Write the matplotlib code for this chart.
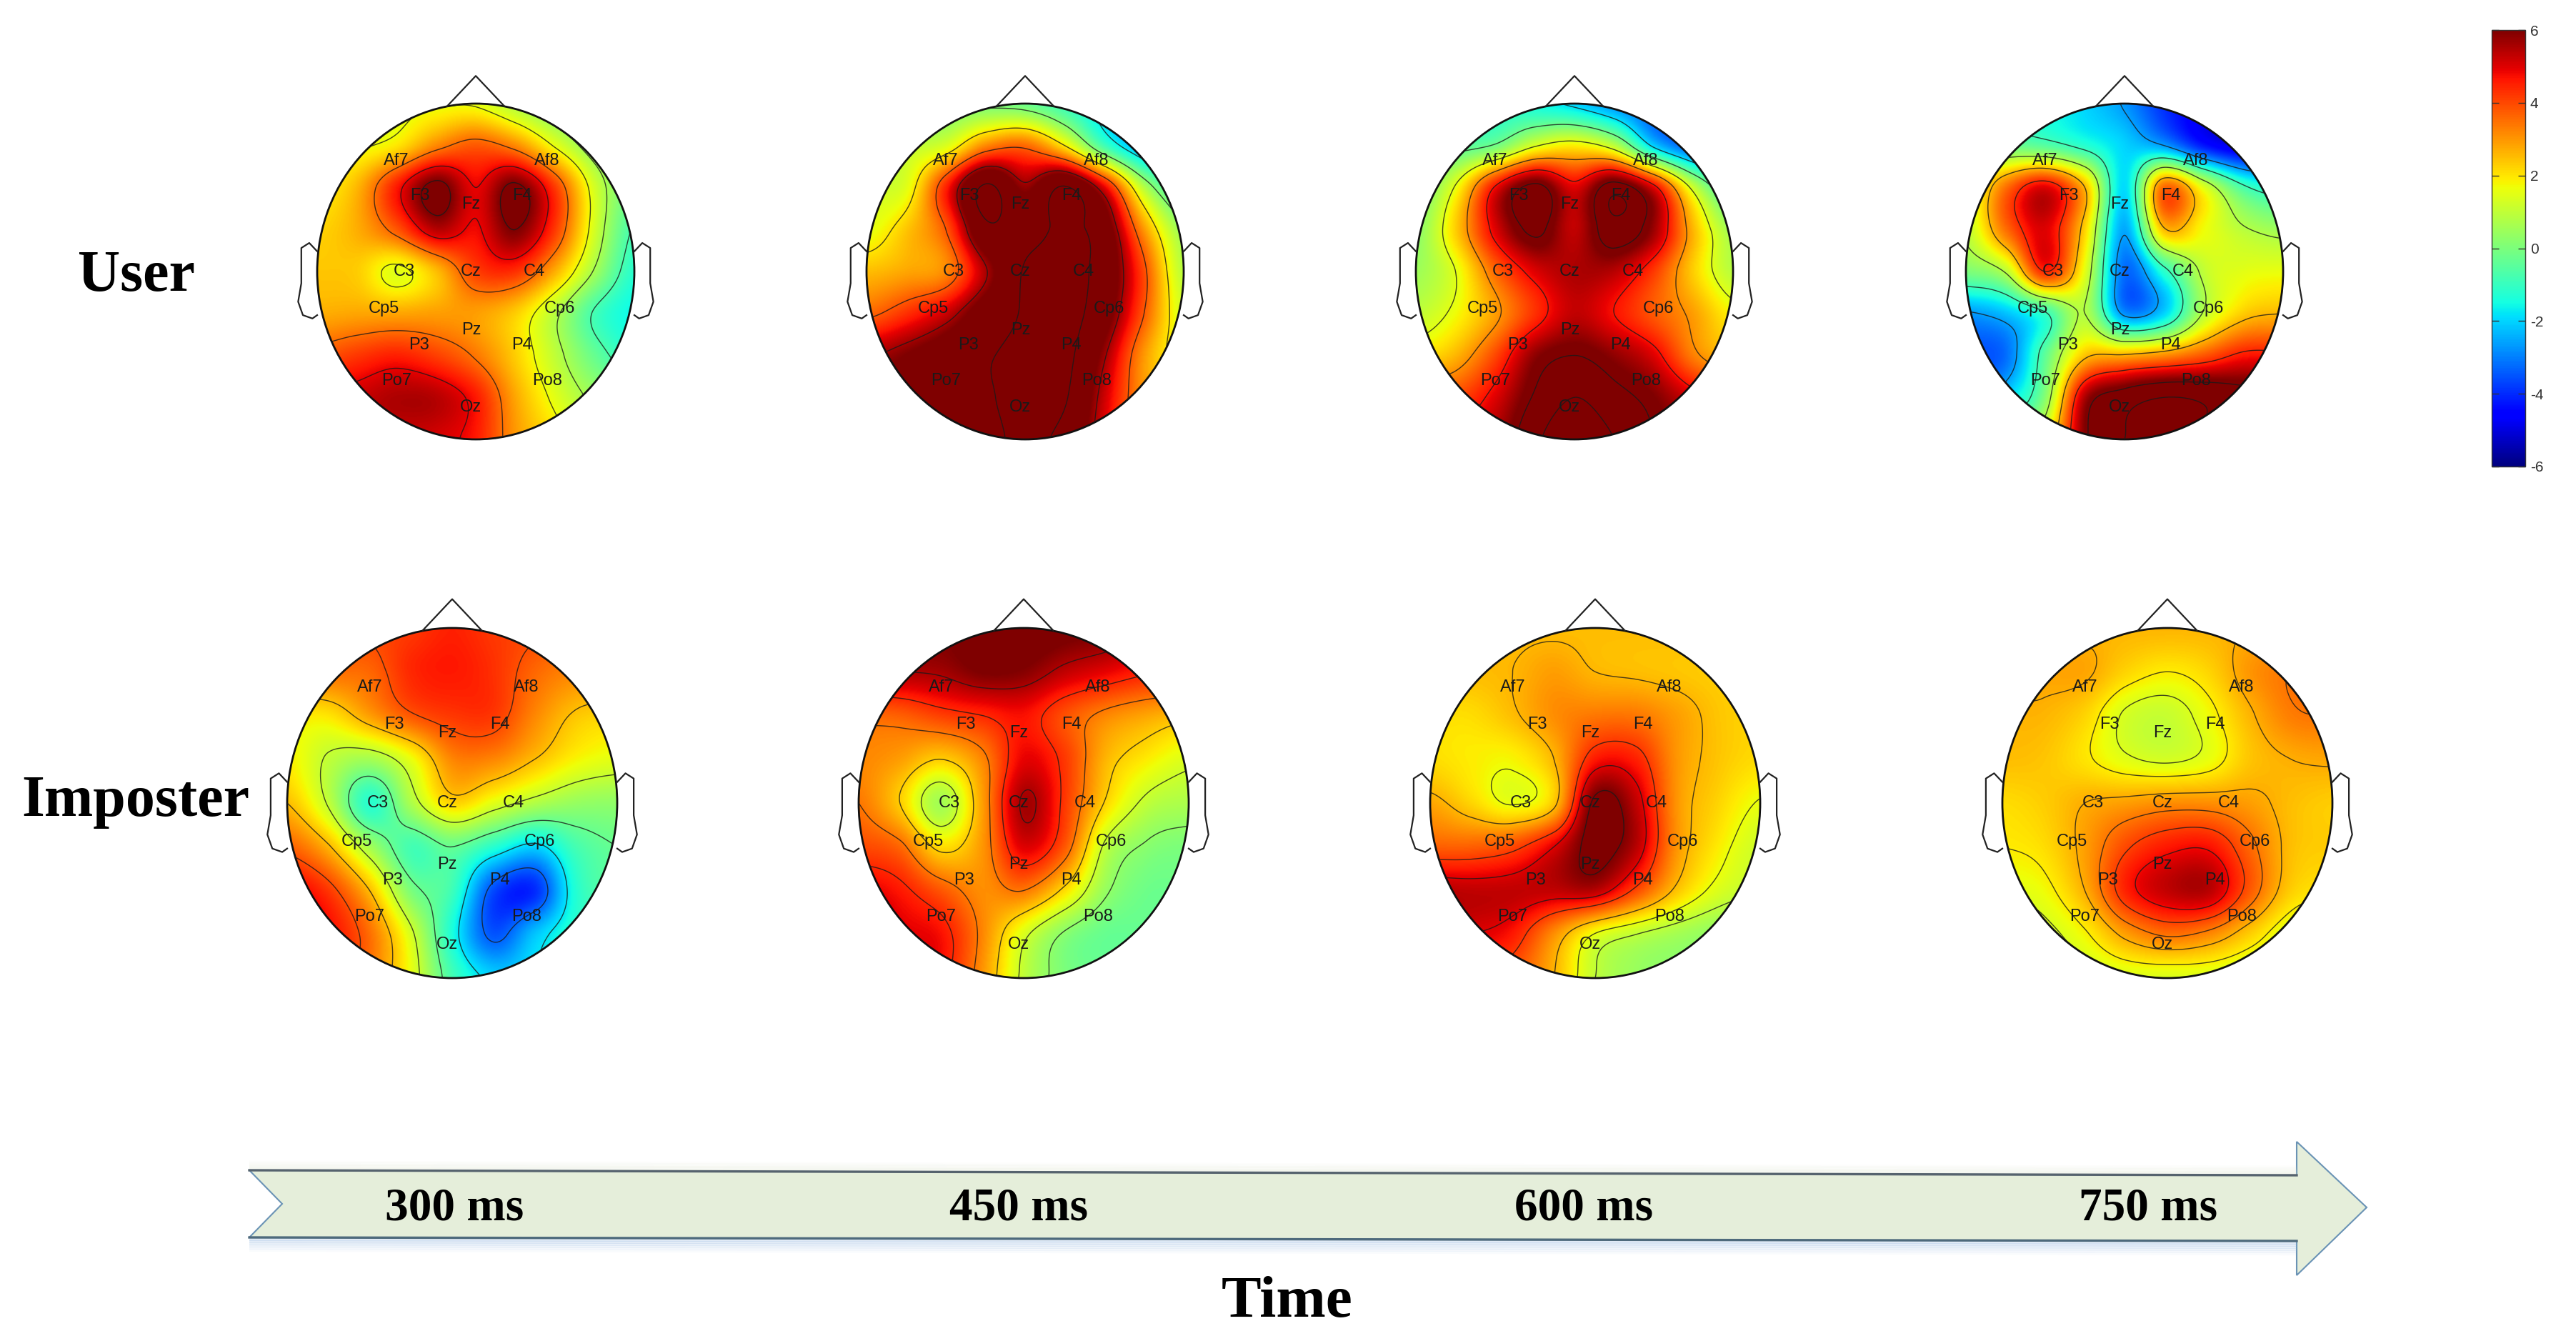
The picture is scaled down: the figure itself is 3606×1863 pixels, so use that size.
import numpy as np
import matplotlib
matplotlib.use('Agg')
import matplotlib.pyplot as plt
from matplotlib.patches import Ellipse, Polygon

W, H = 3606, 1863

# electrode names and their place on the head (-1..1, y up)
electrodes = ['Af7', 'Af8', 'F3', 'Fz', 'F4', 'C3', 'Cz', 'C4', 'Cp5', 'Cp6',
              'Pz', 'P3', 'P4', 'Po7', 'Po8', 'Oz']
elec_x = [-.5, .45, -.35, -.03, .29, -.45, -.03, .37, -.58, .53, -.03, -.36, .29, -.5, .45, -.03]
elec_y = [.66, .66, .45, .40, .45, 0, 0, 0, -.22, -.22, -.35, -.44, -.44, -.65, -.65, -.81]

# voltage, rows y=1..-1, columns x=-1..1 (step .25)
user_300 = [
    [1.5, 1.5, 1.5, 1.6, 1.6, .8, 0, -.5, -.5],
    [1.5, 1.6, 2.0, 3.2, 3.8, 3.2, 1.6, .2, -.5],
    [1.8, 2.6, 4.6, 6.3, 4.9, 6.2, 4.2, 1.3, -.3],
    [2.2, 2.7, 3.8, 5.4, 4.8, 6, 4.2, 1.3, -.8],
    [2.4, 2.3, 1.5, 2.5, 4.1, 4.3, 2.7, .6, -1.2],
    [2.7, 2.8, 2.8, 2.9, 2.9, 2.3, .9, -.8, -1.6],
    [3.8, 4.2, 4.5, 4.1, 3.4, 2.3, 1, -.3, -1.2],
    [5, 5.2, 5.5, 5.4, 4.6, 2.8, 1.5, .5, 0],
    [5.2, 5.3, 5.2, 5.1, 4.6, 3, 2, 1, .5],
]
user_450 = [
    [0, 0, 0, 0, -.2, -1, -2, -2, -2],
    [1, 1, 1.4, 3.2, 3.6, 2, -.8, -2.5, -3],
    [1.3, 1.5, 4.5, 7.5, 5.8, 7.4, 5, .9, -1.2],
    [1.5, 2.4, 3.8, 7, 6.8, 7.5, 6.6, 3, .4],
    [2.5, 2.8, 3.2, 5.5, 7.4, 7.6, 6.8, 4, .9],
    [3.6, 4.3, 5.2, 6.6, 7.4, 7.7, 6.5, 3.8, 1.3],
    [5.5, 6.0, 6.6, 7.2, 7.5, 7.6, 5.7, 3, 1.5],
    [6, 6.2, 6.7, 7.2, 7.5, 7.4, 5.2, 3, 2],
    [6, 6.2, 6.7, 7.1, 7.4, 7, 5, 3, 2],
]
user_600 = [
    [-1, -1, -1.2, -1.5, -2, -2.8, -3.5, -3.5, -3.5],
    [-.5, -.5, -.1, 1.4, 1.9, 1, -2, -3.5, -4],
    [-.2, 1.6, 4.8, 6.6, 5, 6.8, 5, 1.2, -1.2],
    [.2, 2.3, 5, 6.5, 5.3, 6.9, 5.7, 2.6, .5],
    [.5, 1.5, 3.6, 5, 5.5, 5.4, 4.2, 2.3, .9],
    [1, 1.7, 2.9, 4.3, 5.3, 4.7, 3.8, 2.9, 1.8],
    [2, 2.6, 4, 5.8, 6.3, 5.8, 5, 3.3, 2.5],
    [4, 4, 5, 6.4, 7.2, 6.6, 6, 5, 4],
    [5, 5, 5.5, 7, 7.8, 7.2, 6.3, 5.5, 5],
]
user_750 = [
    [-1.5, -1.5, -1.5, -2, -2.7, -4, -4.8, -4.8, -4.8],
    [-.2, -.2, -.5, -1.2, -2, -2.6, -4.2, -5, -5],
    [1, 3.5, 5, 2.6, -1.9, 3.6, 1.5, -.7, -1.5],
    [1, 3.5, 5, 2.2, -2.5, 2.5, 1.7, .9, .5],
    [0, .9, 4.4, 1.5, -3.2, -1.2, 1, 1.5, 1.6],
    [-2.7, -2.2, -1, .8, -2.8, -2, .9, 2.3, 2.6],
    [-3.5, -3.2, -.4, 2.4, 2.7, 3.1, 3.8, 4.6, 4.6],
    [-3, -2, .2, 5.5, 6.8, 7.4, 7.2, 6.6, 6.4],
    [-1, 0, 1.5, 6, 7.4, 7.7, 7.2, 6.5, 6.4],
]
imposter_300 = [
    [4, 4, 4, 4.2, 4.5, 4.2, 4, 3.8, 3.8],
    [3.5, 3.5, 3.6, 4.4, 4.6, 4.3, 3.6, 3.2, 3.2],
    [2, 2, 2.9, 3.8, 4.2, 4.2, 3.2, 2.4, 2.2],
    [1.9, 1, .6, 1.6, 3.2, 3.2, 2.5, 1.8, 1.5],
    [2.5, 1, -1.2, .7, 2.2, 1.5, .8, .4, .3],
    [3.7, 2.6, .6, -.8, -.3, -1.2, -2, -.8, -.3],
    [5, 4.2, 2.5, 0, -.9, -3.6, -4, -1.3, -.5],
    [5.5, 4.8, 3.5, 1.3, -1.4, -3.5, -2.2, -1.2, -1],
    [5, 4.5, 3.4, 1.6, -.8, -2, -1.8, -1.2, -1],
]
imposter_450 = [
    [6, 6, 6, 6.2, 6.4, 6.2, 6, 5.5, 5.5],
    [5.5, 5.5, 5.6, 6, 5.9, 5.3, 4.9, 4.5, 4.5],
    [3.6, 3.7, 4.1, 4.4, 4.7, 3.9, 3.2, 2.8, 2.5],
    [3.2, 2.9, 2.3, 3.2, 4.9, 4.2, 2.6, 1.9, 1.4],
    [3.4, 2.3, .6, 2.9, 5.6, 4.2, 2.2, 1, .7],
    [4, 3.6, 2.1, 3, 5, 3.8, 1, .2, 0],
    [5, 4.6, 3.8, 3.1, 3.4, 2.1, .4, -.2, -.2],
    [5.5, 5, 4.7, 3.2, 1.4, .2, -.3, -.3, -.3],
    [5, 5, 4.7, 3, 1, 0, -.3, -.3, -.3],
]
imposter_600 = [
    [2.5, 2.5, 2.5, 2.5, 2.5, 2.5, 2.5, 2.4, 2.4],
    [2.5, 2.5, 2.6, 2.9, 2.6, 2.5, 2.4, 2.3, 2.3],
    [2.1, 2.1, 2.5, 3.1, 3.4, 3.4, 2.9, 2.4, 2.2],
    [2.1, 1.9, 1.8, 2.6, 4.6, 4.5, 3, 2.4, 2.1],
    [2.8, 2.2, 1.6, 2.4, 6.2, 5.3, 3, 2.2, 1.6],
    [3.7, 3.7, 4, 5, 6.3, 5.4, 3, 1.9, 1.2],
    [5.4, 5.3, 5.3, 5.3, 5.4, 4, 2.4, 1.4, 1],
    [5, 5, 4.6, 3.1, 1.6, 1, .6, .3, .2],
    [4, 4, 3.8, 2.6, 1, .4, .2, .1, .1],
]
imposter_750 = [
    [2.6, 2.6, 2.6, 2.6, 2.6, 2.6, 2.7, 2.8, 2.8],
    [2.8, 2.8, 2.8, 2.2, 1.9, 2.2, 3, 3.4, 3.4],
    [2.6, 2.6, 2.2, 1.3, 1.1, 1.7, 2.6, 3.3, 3.4],
    [2.5, 2.4, 2, 1.5, 1.3, 1.6, 2.4, 2.7, 2.8],
    [2.1, 2.3, 2.7, 2.9, 3.1, 3.1, 2.9, 2.5, 2.3],
    [1.9, 2.1, 2.9, 4, 4.6, 4.7, 3.6, 2.5, 2.3],
    [1.5, 1.7, 2.7, 4.5, 5.3, 5.4, 3.8, 2.3, 2],
    [1, 1.2, 1.8, 2.9, 3.5, 3.2, 2.3, 1.4, 1.2],
    [1, 1, 1.2, 1.4, 1.4, 1.4, 1.2, 1, 1],
]

# contour levels per map
levels_u300 = [-.7, .7, 1.7, 3.5, 4.9, 6.0]
levels_u450 = [-1.6, .2, 2, 3.8, 5.6, 7.3]
levels_u600 = [-1.8, -.2, 1.5, 3.1, 4.7, 6.3, 7.2]
levels_u750 = [-2.6, -.9, .8, 2.6, 4.4, 6.2, 7.4]
levels_i300 = [-3.3, -1.8, -.3, 1.1, 2.5, 3.9]
levels_i450 = [.3, 1.2, 2.3, 3.4, 4.4, 5.5]
levels_i600 = [1, 1.65, 2.6, 4.2, 5, 6]
levels_i750 = [1.4, 1.9, 2.7, 3.4, 4.1, 4.8]

cbar_ticks = [-6, -4, -2, 0, 2, 4, 6]
row_labels = ['User', 'Imposter']
time_labels = ['300 ms', '450 ms', '600 ms', '750 ms']

# head places in pixels: centre x, centre y, radius x, radius y
heads = [
    (user_300, levels_u300, 666, 380, 222, 235),
    (user_450, levels_u450, 1435, 380, 222, 235),
    (user_600, levels_u600, 2204, 380, 222, 235),
    (user_750, levels_u750, 2974, 380, 222, 235),
    (imposter_300, levels_i300, 633, 1124, 231, 245),
    (imposter_450, levels_i450, 1433, 1124, 231, 245),
    (imposter_600, levels_i600, 2233, 1124, 231, 245),
    (imposter_750, levels_i750, 3034, 1124, 231, 245),
]

ear_x = [1.0, 1.05, 1.10, 1.10, 1.12, 1.09, 1.03, 1.0]
ear_y = [.12, .17, .14, -.07, -.18, -.26, -.28, -.26]


def upsample(grid, n=361):
    # cubic convolution on the coarse grid, rows then columns
    g = np.array(grid, dtype=float)
    t = np.linspace(0, g.shape[0] - 1, n)
    i = np.clip(np.floor(t).astype(int), 0, g.shape[0] - 2)
    f = t - i
    w = [-.5*f + f**2 - .5*f**3, 1 - 2.5*f**2 + 1.5*f**3,
         .5*f + 2*f**2 - 1.5*f**3, -.5*f**2 + .5*f**3]
    idx = [np.clip(i + k, 0, g.shape[0] - 1) for k in (-1, 0, 1, 2)]
    rows = sum(w[k][:, None] * g[idx[k], :] for k in range(4))
    return sum(w[k][None, :] * rows[:, idx[k]] for k in range(4))


fig = plt.figure(figsize=(W / 100, H / 100), dpi=100)
ax = fig.add_axes([0, 0, 1, 1])

im = None
for grid, levels, cx, cy, rx, ry in heads:
    z = upsample(grid)
    clip = Ellipse((cx, cy), 2 * rx, 2 * ry, transform=ax.transData)
    im = ax.imshow(z, extent=(cx - rx, cx + rx, cy + ry, cy - ry), origin='upper',
                   cmap='jet', vmin=-6, vmax=6, aspect='auto', interpolation='bilinear')
    im.set_clip_path(clip)
    px = np.linspace(cx - rx, cx + rx, z.shape[1])
    py = np.linspace(cy - ry, cy + ry, z.shape[0])
    cs = ax.contour(px, py, z, levels=levels, colors='#1a1a1a', linewidths=1.0,
                    linestyles='solid', alpha=.8)
    cs.set_clip_path(clip)
    ax.add_patch(Ellipse((cx, cy), 2 * rx, 2 * ry, fill=False, ec='#111111', lw=2.0))
    # nose
    ax.plot([cx - .18 * rx, cx, cx + .18 * rx],
            [cy - .985 * ry, cy - 1.165 * ry, cy - .985 * ry], color='#222222', lw=1.6)
    # ears
    for side in (-1, 1):
        ax.plot([cx + side * rx * v for v in ear_x], [cy - ry * v for v in ear_y],
                color='#222222', lw=1.6)
    for name, ex, ey in zip(electrodes, elec_x, elec_y):
        ax.text(cx + ex * rx, cy - ey * ry, name, ha='center', va='center',
                fontsize=17, family='Liberation Sans', color='#1a1a1a')

for label, x, y in zip(row_labels, [191, 190], [387, 1122]):
    ax.text(x, y, label, ha='center', va='center', fontsize=59,
            family='Liberation Serif', weight='bold', color='black')

# time arrow
arrow_x = [349, 3215, 3215, 3313, 3215, 3215, 349, 395]
arrow_y = [1638, 1645, 1598, 1690, 1785, 1737, 1732, 1685]
for k in range(1, 7):
    ax.plot([349, 3215], [1732 + 3 * k, 1737 + 3 * k], color='#8fb4e0',
            lw=3, alpha=.32 - .045 * k, solid_capstyle='butt')
    ax.plot([349, 3215], [1638 - 2 * k, 1645 - 2 * k], color='#dfe6d0',
            lw=2, alpha=.3 - .04 * k, solid_capstyle='butt')
ax.add_patch(Polygon(list(zip(arrow_x, arrow_y)), closed=True, fc='#e5eeda', ec='#6a93b5', lw=1.5))
ax.plot([349, 3215], [1638, 1645], color='#56636e', lw=2.4)
ax.plot([349, 3215], [1732, 1737], color='#4e6a7c', lw=2.4)

for label, x in zip(time_labels, [636, 1426, 2217, 3007]):
    ax.text(x, 1692, label, ha='center', va='center', fontsize=47,
            family='Liberation Serif', weight='bold', color='black')
ax.text(1802, 1823, 'Time', ha='center', va='center', fontsize=60,
        family='Liberation Serif', weight='bold', color='black')

ax.set_xlim(0, W)
ax.set_ylim(H, 0)
ax.axis('off')

cax = fig.add_axes([3488 / W, 1 - 653 / H, 47 / W, 611 / H])
cb = fig.colorbar(im, cax=cax, ticks=cbar_ticks)
cb.outline.set_linewidth(1.0)
cb.outline.set_edgecolor('#333333')
cax.tick_params(axis='y', direction='in', left=True, right=True, length=7, width=1,
                labelsize=15, pad=5, labelcolor='#333333', color='#333333')
cax.set_yticklabels([str(v) for v in cbar_ticks], family='Liberation Sans')

fig.savefig('out.png', dpi=100)
